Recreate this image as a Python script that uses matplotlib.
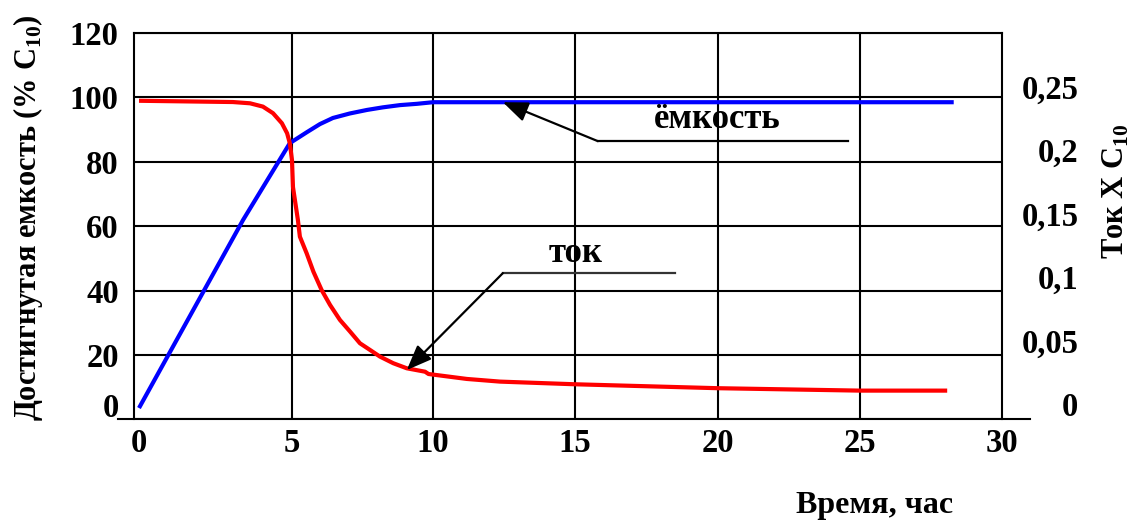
import matplotlib
matplotlib.use("Agg")
import numpy as np
import matplotlib.pyplot as plt
from matplotlib.lines import Line2D
from matplotlib.transforms import ScaledTranslation, blended_transform_factory

# ---------------- data ----------------
cap_time = [0, 3.40, 4.93, 5.53, 5.99, 6.45, 7.05, 7.66, 8.22, 8.83, 9.43, 10.0, 28.3]
cap_value = [3.5, 61.9, 85.8, 89.2, 91.7, 93.6, 95.0, 96.1, 96.9, 97.6, 98.0, 98.5, 98.5]

cur_time = [0, 3.07, 3.63, 4.05, 4.38, 4.67, 4.84, 4.93, 5.0, 5.035, 5.21, 5.28,
            5.52, 5.76, 6.05, 6.35, 6.70, 7.06, 7.41, 7.77, 8.12, 8.59, 9.07,
            9.72, 9.84, 11.19, 12.36, 15.0, 20.0, 25.0, 28.07]
cur_value = [0.239, 0.238, 0.237, 0.2344, 0.2292, 0.2213, 0.2134, 0.2055, 0.1923,
             0.1710, 0.1450, 0.1319, 0.1188, 0.1043, 0.0899, 0.0781, 0.0663,
             0.0571, 0.0479, 0.0426, 0.0374, 0.0322, 0.0282, 0.0255, 0.0237,
             0.0198, 0.0177, 0.0156, 0.0125, 0.0106, 0.0106]

x_ticks = [0, 5, 10, 15, 20, 25, 30]
x_tick_labels = ["0", "5", "10", "15", "20", "25", "30"]
y_left_ticks = [0, 20, 40, 60, 80, 100, 120]
y_left_labels = ["0", "20", "40", "60", "80", "100", "120"]
y_right_ticks = [0, 0.05, 0.10, 0.15, 0.20, 0.25]
y_right_labels = ["0", "0,05", "0,1", "0,15", "0,2", "0,25"]

# annotation anchors (left-axis data coordinates)
cap_label = "ёмкость"
cap_text_xy = (19.98, 93.0)
cap_arrow_tip = (12.46, 98.5)
cap_arrow_tail = (15.80, 86.4)
cap_leader_end_x = 24.58

cur_label = "ток"
cur_text_xy = (15.03, 51.5)
cur_arrow_tip = (9.07, 15.3)
cur_arrow_tail = (12.46, 45.4)
cur_leader_end_x = 18.50

# the original time axis is not uniformly spaced (first interval is wider)
scale_nodes_time = [-1, 0, 5, 10, 15, 20, 25, 30, 31]
scale_nodes_pos = [108.4, 139, 292, 433, 575, 718, 860, 1002, 1030.4]

# ---------------- style ----------------
plt.rcParams["font.family"] = ["Liberation Serif", "DejaVu Serif"]
plt.rcParams["font.weight"] = "bold"
plt.rcParams["mathtext.fontset"] = "custom"
plt.rcParams["mathtext.rm"] = "Liberation Serif:bold"
plt.rcParams["mathtext.bf"] = "Liberation Serif:bold"

W, H = 1133, 520
fig = plt.figure(figsize=(W / 100, H / 100), dpi=100)
left_px, right_px, top_px, bottom_px = 134, 1002, 33, 419.3
ax = fig.add_axes([left_px / W, 1 - bottom_px / H,
                   (right_px - left_px) / W, (bottom_px - top_px) / H])
ax2 = ax.twinx()

LW_GRID = 1.5
FS = 23.5
FS_LAB = 22
FS_ANN = 25


def fwd(x):
    return np.interp(x, scale_nodes_time, scale_nodes_pos)


def inv(p):
    return np.interp(p, scale_nodes_pos, scale_nodes_time)


ax.set_xscale("function", functions=(fwd, inv))
ax.set_xlim(-0.163, 30)
ax.set_ylim(0, 120)
ax2.set_ylim(-0.012, 0.2924)

# grid
ax.xaxis.remove_overlapping_locs = False
ax.set_xticks(x_ticks)
ax.set_xticklabels(x_tick_labels)
ax.set_xticks(x_ticks[1:-1], minor=True)
ax.xaxis.set_minor_formatter(matplotlib.ticker.NullFormatter())
ax.set_yticks(y_left_ticks)
ax.set_yticklabels(y_left_labels)
ax.xaxis.grid(True, which="minor", color="black", lw=LW_GRID)
ax.xaxis.grid(False, which="major")
ax.yaxis.grid(True, which="major", color="black", lw=LW_GRID)
ax.set_axisbelow(True)

ax.tick_params(axis="x", which="both", length=0, pad=6, labelsize=FS)
ax.tick_params(axis="y", which="both", length=0, pad=11, labelsize=FS)

ax2.set_yticks(y_right_ticks)
ax2.set_yticklabels(y_right_labels)
ax2.tick_params(axis="y", length=0, pad=55, labelsize=FS)
for lab in ax2.get_yticklabels():
    lab.set_horizontalalignment("right")

for s in ["left", "top", "right"]:
    ax.spines[s].set_linewidth(LW_GRID)
    ax.spines[s].set_color("black")
ax.spines["bottom"].set_visible(False)
for s in ax2.spines.values():
    s.set_visible(False)

# extended bottom axis line
trans_b = blended_transform_factory(fig.transFigure, ax.transAxes)
fig.add_artist(Line2D([118 / W, 1030 / W], [0, 0], transform=trans_b,
                      color="black", lw=LW_GRID))

# curves
ax.plot(cap_time, cap_value, color="#0000FF", lw=3.0, solid_capstyle="butt", zorder=3)
ax2.plot(cur_time, cur_value, color="#FF0000", lw=3.0, solid_capstyle="butt", zorder=3)

# annotations
ap = dict(arrowstyle="-|>,head_length=0.55,head_width=0.22", color="black",
          lw=1.6, mutation_scale=28, shrinkA=0, shrinkB=0)
ax2.annotate("", xy=cap_arrow_tip, xytext=cap_arrow_tail,
             xycoords=ax.transData, textcoords=ax.transData, arrowprops=ap)
ax2.plot([cap_arrow_tail[0], cap_leader_end_x], [cap_arrow_tail[1]] * 2,
         color="black", lw=1.6, transform=ax.transData)
ax2.text(*cap_text_xy, cap_label, transform=ax.transData, fontsize=FS_ANN,
         ha="center", va="center", fontweight="bold")

ax2.annotate("", xy=cur_arrow_tip, xytext=cur_arrow_tail,
             xycoords=ax.transData, textcoords=ax.transData, arrowprops=ap)
ax2.plot([cur_arrow_tail[0], cur_leader_end_x], [cur_arrow_tail[1]] * 2,
         color="#333333", lw=1.6, transform=ax.transData)
ax2.text(*cur_text_xy, cur_label, transform=ax.transData, fontsize=FS_ANN,
         ha="center", va="center", fontweight="bold")

# axis labels
ax.set_ylabel(r"Достигнутая емкость (% C$_{\mathregular{10}}$)", fontsize=FS_LAB,
              fontweight="bold", va="center")
ax.yaxis.set_label_coords(-0.122, 0.522)
ax2.set_ylabel(r"Ток X C$_{\mathregular{10}}$", fontsize=FS_LAB, fontweight="bold",
               va="center", rotation=90)
ax2.yaxis.set_label_coords(1.131, 0.591)
ax.set_xlabel("Время, час", fontsize=23, fontweight="bold", va="center")
ax.xaxis.set_label_coords(0.8537, -0.222)

# shift the "0" label of the left axis upward as in the original
ticks = ax.yaxis.get_major_ticks()
ticks[0].label1.set_transform(ticks[0].label1.get_transform() +
                              ScaledTranslation(0, 10 / 72, fig.dpi_scale_trans))

fig.savefig("out.png", dpi=100)
